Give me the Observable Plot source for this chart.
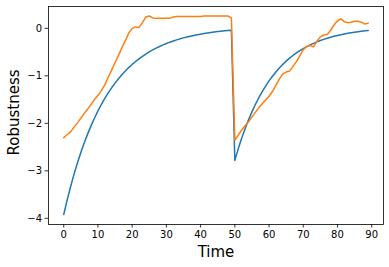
<!DOCTYPE html>
<html><head><meta charset="utf-8">
<script src="https://cdn.jsdelivr.net/npm/d3@7"></script>
<script src="https://cdn.jsdelivr.net/npm/@observablehq/plot@0.6"></script>
<style>body{margin:0;background:#fff;} svg{font-family:"DejaVu Sans";}</style>
</head><body><div id="chart"></div>
<script>
const time = [0,1,2,3,4,5,6,7,8,9,10,11,12,13,14,15,16,17,18,19,20,21,22,23,24,25,26,27,28,29,
  30,31,32,33,34,35,36,37,38,39,40,41,42,43,44,45,46,47,48,49,50,51,52,53,54,55,56,57,58,59,
  60,61,62,63,64,65,66,67,68,69,70,71,72,73,74,75,76,77,78,79,80,81,82,83,84,85,86,87,88,89];

const blueSeries = [-3.920,-3.616,-3.334,-3.075,-2.835,-2.614,-2.410,-2.222,-2.048,-1.888,
  -1.739,-1.603,-1.476,-1.360,-1.252,-1.153,-1.061,-0.977,-0.898,-0.826,
  -0.760,-0.698,-0.641,-0.589,-0.541,-0.496,-0.455,-0.417,-0.382,-0.349,
  -0.319,-0.291,-0.266,-0.243,-0.221,-0.201,-0.182,-0.165,-0.149,-0.135,
  -0.122,-0.109,-0.097,-0.087,-0.077,-0.068,-0.060,-0.052,-0.045,-0.038,
  -2.780,-2.537,-2.315,-2.113,-1.927,-1.758,-1.603,-1.462,-1.333,-1.215,
  -1.107,-1.008,-0.918,-0.835,-0.760,-0.691,-0.628,-0.571,-0.518,-0.470,
  -0.426,-0.386,-0.349,-0.316,-0.285,-0.257,-0.232,-0.208,-0.187,-0.167,
  -0.150,-0.133,-0.118,-0.105,-0.092,-0.081,-0.071,-0.061,-0.052,-0.044];

const orangeSeries = [-2.30,-2.24,-2.18,-2.08,-1.99,-1.89,-1.79,-1.70,-1.60,-1.50,
  -1.41,-1.31,-1.19,-1.03,-0.88,-0.72,-0.57,-0.41,-0.26,-0.10,
  0.00,0.03,0.02,0.12,0.24,0.26,0.22,0.21,0.21,0.21,
  0.21,0.21,0.24,0.25,0.25,0.25,0.25,0.25,0.25,0.25,
  0.25,0.26,0.26,0.26,0.26,0.26,0.26,0.26,0.26,0.22,
  -2.35,-2.25,-2.14,-2.05,-1.97,-1.87,-1.77,-1.67,-1.59,-1.51,
  -1.43,-1.33,-1.20,-1.07,-0.96,-0.92,-0.90,-0.80,-0.70,-0.58,
  -0.45,-0.38,-0.36,-0.39,-0.27,-0.18,-0.14,-0.13,-0.04,0.07,
  0.16,0.20,0.14,0.12,0.13,0.15,0.15,0.13,0.09,0.11];

const xTicks = [0,10,20,30,40,50,60,70,80,90];
const yTicks = [-4,-3,-2,-1,0];
const xLabel = "Time";
const yLabel = "Robustness";

const blueRows = time.map((t, i) => ({t, v: blueSeries[i]}));
const orangeRows = time.map((t, i) => ({t, v: orangeSeries[i]}));

const chart = Plot.plot({
  width: 389,
  height: 267,
  marginLeft: 48,
  marginRight: 6,
  marginTop: 6,
  marginBottom: 43,
  x: {domain: [-4.45, 93.45]},
  y: {domain: [-4.13, 0.46]},
  style: {fontFamily: "DejaVu Sans", fontSize: "10px", color: "black", background: "white"},
  marks: [
    Plot.axisX({ticks: xTicks, tickSize: 3.5, tickPadding: 3, tickFormat: d3.format("d"), label: null, strokeWidth: 0.8}),
    Plot.axisY({ticks: yTicks, tickSize: 3.5, tickPadding: 3, tickFormat: d3.format("d"), label: null, strokeWidth: 0.8}),
    Plot.line(blueRows, {x: "t", y: "v", stroke: "#1f77b4", strokeWidth: 1.5}),
    Plot.line(orangeRows, {x: "t", y: "v", stroke: "#ff7f0e", strokeWidth: 1.5}),
    Plot.frame({stroke: "black", strokeWidth: 0.8}),
    Plot.text([xLabel], {text: d => d, frameAnchor: "bottom", lineAnchor: "middle", textAnchor: "middle", dy: 28, fontSize: 15}),
    Plot.text([yLabel], {text: d => d, frameAnchor: "left", lineAnchor: "middle", textAnchor: "middle", dx: -34, dy: -3, rotate: -90, fontSize: 15})
  ]
});
document.getElementById("chart").appendChild(chart);
</script>
</body></html>
